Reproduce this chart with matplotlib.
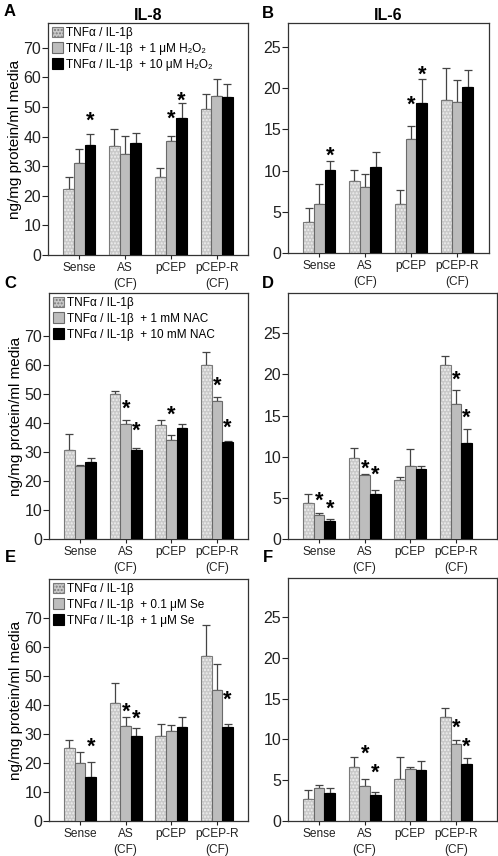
import numpy as np
import matplotlib
matplotlib.use("Agg")
import matplotlib.pyplot as plt
from matplotlib.patches import Patch

plt.rcParams['font.family'] = ['Liberation Sans', 'DejaVu Sans']
plt.rcParams['hatch.linewidth'] = 1.0

groups = ["Sense", "AS\n(CF)", "pCEP", "pCEP-R\n(CF)"]

# panel A - IL-8, H2O2
a_ctrl = [22.2, 36.8, 26.5, 49.4]
a_ctrl_err = [4.0, 5.8, 2.8, 5.1]
a_low = [31.0, 34.0, 38.4, 53.6]
a_low_err = [4.8, 6.2, 1.7, 5.8]
a_high = [37.3, 37.8, 46.4, 53.4]
a_high_err = [3.6, 3.3, 4.8, 4.4]
a_stars = [(0, 2, 46.9), (2, 1, 47.5), (2, 2, 53.7)]

# panel B - IL-6, H2O2
b_ctrl = [3.8, 8.7, 6.0, 18.5]
b_ctrl_err = [1.6, 1.4, 1.7, 3.9]
b_low = [5.9, 8.0, 13.8, 18.3]
b_low_err = [2.5, 1.6, 1.6, 2.7]
b_high = [10.1, 10.4, 18.2, 20.1]
b_high_err = [1.1, 1.9, 2.9, 2.1]
b_stars = [(0, 2, 12.3), (2, 1, 18.5), (2, 2, 22.2)]

# panel C - IL-8, NAC
c_ctrl = [30.6, 49.9, 39.3, 60.0]
c_ctrl_err = [5.6, 1.1, 1.6, 4.6]
c_low = [25.1, 39.6, 34.2, 47.4]
c_low_err = [0.5, 1.5, 1.5, 1.6]
c_high = [26.7, 30.8, 38.1, 33.3]
c_high_err = [1.3, 0.4, 1.7, 0.5]
c_stars = [(1, 1, 46.3), (1, 2, 38.8), (2, 1, 44.2), (3, 1, 54.3), (3, 2, 39.7)]

# panel D - IL-6, NAC
d_ctrl = [4.4, 9.8, 7.2, 21.2]
d_ctrl_err = [1.1, 1.3, 0.3, 1.0]
d_low = [2.9, 7.8, 8.9, 16.4]
d_low_err = [0.2, 0.1, 2.0, 1.7]
d_high = [2.2, 5.5, 8.5, 11.7]
d_high_err = [0.2, 0.5, 0.4, 1.7]
d_stars = [(0, 1, 5.2), (0, 2, 4.2), (1, 1, 9.1), (1, 2, 8.3), (3, 1, 19.9), (3, 2, 15.3)]

# panel E - IL-8, Se
e_ctrl = [25.0, 40.5, 29.3, 56.8]
e_ctrl_err = [2.9, 7.2, 4.3, 10.6]
e_low = [20.1, 32.7, 31.0, 45.3]
e_low_err = [3.8, 3.2, 2.2, 8.8]
e_high = [15.3, 29.3, 32.5, 32.3]
e_high_err = [5.2, 2.9, 3.5, 1.3]
e_stars = [(0, 2, 27.0), (1, 1, 39.0), (1, 2, 36.7), (3, 2, 43.4)]

# panel F - IL-6, Se
f_ctrl = [2.7, 6.6, 5.1, 12.8]
f_ctrl_err = [1.1, 1.3, 2.7, 1.0]
f_low = [4.0, 4.3, 6.4, 9.4]
f_low_err = [0.4, 0.8, 0.2, 0.5]
f_high = [3.4, 3.2, 6.2, 7.0]
f_high_err = [0.6, 0.3, 1.2, 0.7]
f_stars = [(1, 1, 8.8), (1, 2, 6.5), (3, 1, 12.0), (3, 2, 9.6)]

lab_h2o2 = ["TNFα / IL-1β", "TNFα / IL-1β  + 1 μM H₂O₂", "TNFα / IL-1β  + 10 μM H₂O₂"]
lab_nac = ["TNFα / IL-1β", "TNFα / IL-1β  + 1 mM NAC", "TNFα / IL-1β  + 10 mM NAC"]
lab_se = ["TNFα / IL-1β", "TNFα / IL-1β  + 0.1 μM Se", "TNFα / IL-1β  + 1 μM Se"]

W = 498
H = 856
fig = plt.figure(figsize=(W / 100, H / 100), dpi=100)

def px_axes(left, top, right, bottom):
    return fig.add_axes([left / W, 1 - bottom / H, (right - left) / W, (bottom - top) / H])

def draw_panel(ax, series, errs, stars, ymax, yticks, xmax):
    x = np.arange(len(groups))
    bw = 0.233
    offs = [-bw, 0, bw]
    # dotted control bars
    ax.bar(x + offs[0], series[0], bw, color='#c9c9c9', hatch='.....',
           edgecolor='#efefef', linewidth=0, zorder=2)
    ax.bar(x + offs[0], series[0], bw, fill=False, edgecolor='#7a7a7a',
           linewidth=0.8, zorder=3)
    ax.bar(x + offs[1], series[1], bw, color='#bdbdbd', edgecolor='#6a6a6a',
           linewidth=0.8, zorder=3)
    ax.bar(x + offs[2], series[2], bw, color='black', edgecolor='black',
           linewidth=0.8, zorder=3)
    for i in range(3):
        ax.errorbar(x + offs[i], series[i], yerr=[np.zeros(4), errs[i]], fmt='none',
                    ecolor='#444444', elinewidth=0.9, capsize=3, capthick=0.9, zorder=1)
    for g, b, y in stars:
        ax.annotate("*", (x[g] + offs[b], y), xytext=(0, -3.5), textcoords='offset points',
                    ha='center', va='center', fontsize=15.5, fontweight='bold', zorder=4)
    ax.set_xlim(-0.68, xmax)
    ax.set_ylim(0, ymax)
    ax.set_yticks(yticks)
    ax.set_xticks(x)
    ax.set_xticklabels(groups, fontsize=8.6, linespacing=1.45)
    ax.tick_params(axis='y', labelsize=11.5, length=4, width=0.8, pad=1, colors='#222222')
    ax.tick_params(axis='x', length=3, width=0.8, pad=2, colors='#222222')
    for sp in ax.spines.values():
        sp.set_color('#333333')
        sp.set_linewidth(0.9)

def add_legend(ax, labels):
    hs = [Patch(facecolor='#c9c9c9', edgecolor='#7a7a7a', hatch='.....', linewidth=0.8),
          Patch(facecolor='#bdbdbd', edgecolor='#6a6a6a', linewidth=0.8),
          Patch(facecolor='black', edgecolor='black', linewidth=0.8)]
    ax.legend(hs, labels, loc='upper left', bbox_to_anchor=(0.0, 1.0), frameon=False,
              fontsize=8.5, handlelength=0.95, handleheight=0.95, handletextpad=0.3,
              labelspacing=0.32, borderaxespad=0.15, borderpad=0.15)

ylabel = "ng/mg protein/ml media"

axA = px_axes(48, 23, 248, 255)
draw_panel(axA, [a_ctrl, a_low, a_high], [a_ctrl_err, a_low_err, a_high_err], a_stars,
           78.4, range(0, 71, 10), 3.68)
add_legend(axA, lab_h2o2)
axA.set_ylabel(ylabel, fontsize=11, labelpad=1)
axA.set_title("IL-8", fontsize=11.5, fontweight='bold', pad=2)

axB = px_axes(288, 23, 489, 253)
draw_panel(axB, [b_ctrl, b_low, b_high], [b_ctrl_err, b_low_err, b_high_err], b_stars,
           27.9, range(0, 26, 5), 3.7)
axB.set_title("IL-6", fontsize=11.5, fontweight='bold', pad=2)

axC = px_axes(49, 293, 248, 539)
draw_panel(axC, [c_ctrl, c_low, c_high], [c_ctrl_err, c_low_err, c_high_err], c_stars,
           84.8, range(0, 71, 10), 3.68)
add_legend(axC, lab_nac)
axC.set_ylabel(ylabel, fontsize=11, labelpad=1)

axD = px_axes(288, 293, 497, 539)
draw_panel(axD, [d_ctrl, d_low, d_high], [d_ctrl_err, d_low_err, d_high_err], d_stars,
           29.9, range(0, 26, 5), 3.9)

axE = px_axes(49, 579, 248, 821)
draw_panel(axE, [e_ctrl, e_low, e_high], [e_ctrl_err, e_low_err, e_high_err], e_stars,
           83.4, range(0, 71, 10), 3.68)
add_legend(axE, lab_se)
axE.set_ylabel(ylabel, fontsize=11, labelpad=1)

axF = px_axes(288, 578, 497, 821)
draw_panel(axF, [f_ctrl, f_low, f_high], [f_ctrl_err, f_low_err, f_high_err], f_stars,
           29.8, range(0, 26, 5), 3.9)

for letter, xp, yp in [("A", 10, 12), ("B", 268, 13), ("C", 10, 283), ("D", 268, 283),
                       ("E", 10, 557), ("F", 268, 557)]:
    fig.text(xp / W, 1 - yp / H, letter, fontsize=12, fontweight='bold', ha='center', va='center')

fig.savefig("out.png", dpi=100)
